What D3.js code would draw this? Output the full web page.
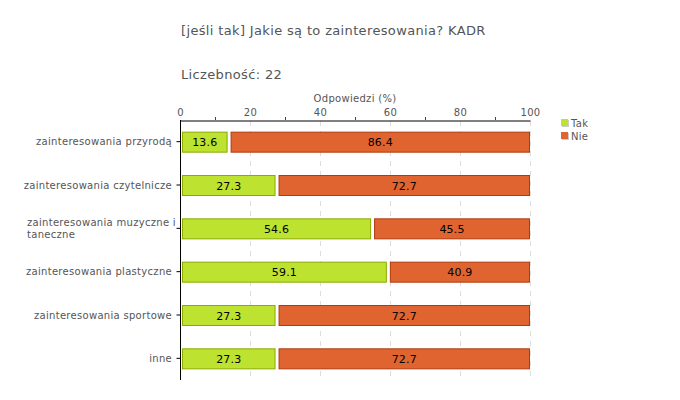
<!DOCTYPE html>
<html><head><meta charset="utf-8">
<script src="https://cdn.jsdelivr.net/npm/d3@7"></script>
<style>body{margin:0;background:#fff}text{font-family:"DejaVu Sans",Verdana,sans-serif}</style>
</head><body><svg id="c" width="680" height="400"></svg>
<script>
const categories = ["zainteresowania przyrodą","zainteresowania czytelnicze","zainteresowania muzyczne i taneczne","zainteresowania plastyczne","zainteresowania sportowe","inne"];
const takValues = [13.6,27.3,54.6,59.1,27.3,27.3];
const nieValues = [86.4,72.7,45.5,40.9,72.7,72.7];
const seriesNames = ["Tak","Nie"];
const xTicks = [0,20,40,60,80,100];
const minorTicks = [10,30,50,70,90];

const svg = d3.select("#c");
const x = d3.scaleLinear().domain([0,100]).range([180,530]);
const y = d3.scaleBand().domain(categories).range([120,380]);
const barH = 20;
const colors = {Tak:{fill:"#bde22f",stroke:"#8aab00"},Nie:{fill:"#e06430",stroke:"#b03a0a"}};
const LS = "0.3px";

svg.append("text").attr("x",181).attr("y",35).attr("font-size",13).attr("letter-spacing","0.35px").attr("fill","#555").text("[jeśli tak] Jakie są to zainteresowania? KADR");
svg.append("text").attr("x",181).attr("y",79).attr("font-size",13).attr("letter-spacing","0.35px").attr("fill","#555").text("Liczebność: 22");
svg.append("text").attr("x",355).attr("y",102).attr("font-size",10).attr("letter-spacing",LS).attr("fill","#555").attr("text-anchor","middle").text("Odpowiedzi (%)");

// grid
svg.append("g").selectAll("line").data(xTicks.slice(1)).join("line")
 .attr("x1",d=>x(d)+0.5).attr("x2",d=>x(d)+0.5).attr("y1",121).attr("y2",380)
 .attr("stroke","#ddd").attr("stroke-dasharray","5,5");

// x axis
const xa = svg.append("g").attr("transform","translate(0,120.5)")
 .call(d3.axisTop(x).tickValues(xTicks).tickSize(0).tickPadding(4.5).tickFormat(d3.format("d")));
xa.select(".domain").attr("stroke","#000");
xa.selectAll("text").attr("font-size",10).attr("letter-spacing",LS).attr("fill","#555").attr("font-family","DejaVu Sans");
svg.append("g").selectAll("line").data(minorTicks).join("line")
 .attr("x1",d=>x(d)+0.5).attr("x2",d=>x(d)+0.5).attr("y1",117).attr("y2",120)
 .attr("stroke","#d00");

// y axis
const ya = svg.append("g").attr("transform","translate(180.5,0)")
 .call(d3.axisLeft(y).tickSize(4).tickFormat(""));
ya.select(".domain").attr("stroke","#000").attr("d","M0,120V380");

const lab = svg.append("g");
categories.forEach(c=>{
  const cy = y(c)+y.bandwidth()/2;
  if(c==="zainteresowania muzyczne i taneczne"){
    lab.append("text").attr("x",27).attr("y",cy-2).attr("font-size",10).attr("letter-spacing",LS).attr("fill","#555").text("zainteresowania muzyczne i");
    lab.append("text").attr("x",27).attr("y",cy+9.5).attr("font-size",10).attr("letter-spacing",LS).attr("fill","#555").text("taneczne");
  } else {
    lab.append("text").attr("x",172).attr("y",cy+3.5).attr("font-size",10).attr("letter-spacing",LS).attr("fill","#555").attr("text-anchor","end").text(c);
  }
});

// bars
const rows = categories.map((c,i)=>({c,tak:takValues[i],nie:nieValues[i]}));
const g = svg.append("g");
rows.forEach(r=>{
  const top = y(r.c)+(y.bandwidth()-barH)/2;
  const segs = [
    {name:"Tak",x0:x(0)+2,x1:x(r.tak),v:r.tak},
    {name:"Nie",x0:x(r.tak)+3,x1:x(100),v:r.nie}
  ];
  segs.forEach(s=>{
    g.append("rect").attr("x",s.x0+0.5).attr("y",top+0.5).attr("width",s.x1-s.x0-1).attr("height",barH)
     .attr("fill",colors[s.name].fill).attr("stroke",colors[s.name].stroke);
    g.append("text").attr("x",(s.x0+s.x1)/2).attr("y",top+barH/2+4.5).attr("text-anchor","middle")
     .attr("font-size",11).attr("letter-spacing","0.2px").attr("fill","#000").text(d3.format(".1f")(s.v));
  });
});

// legend
const lg = svg.append("g");
seriesNames.forEach((n,i)=>{
  const ly = 119 + i*13;
  lg.append("rect").attr("x",562).attr("y",ly+1).attr("width",7).attr("height",7).attr("fill","#ccc");
  lg.append("rect").attr("x",561).attr("y",ly).attr("width",7).attr("height",7).attr("fill",colors[n].fill);
  lg.append("text").attr("x",571).attr("y",ly+7.5).attr("font-size",10).attr("letter-spacing",LS).attr("fill","#555").text(n);
});
</script></body></html>
